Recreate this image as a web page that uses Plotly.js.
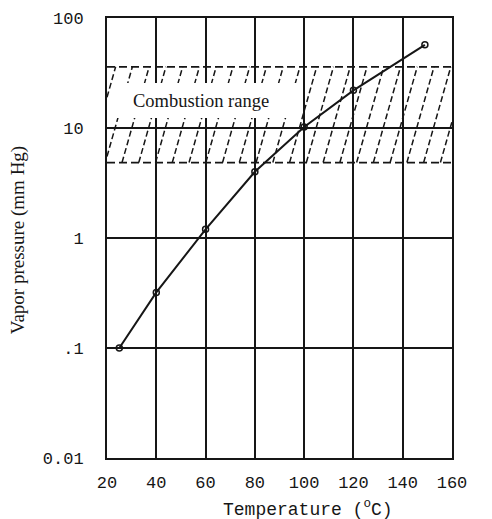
<!DOCTYPE html>
<html>
<head>
<meta charset="utf-8">
<script src="https://cdn.plot.ly/plotly-3.0.1.min.js"></script>
<style>
html,body{margin:0;padding:0;background:#fff;}
#chart{width:492px;height:519px;}
</style>
</head>
<body>
<div id="chart"></div>
<script>
// Data
var temperature = [25, 40, 60, 80, 100, 120, 149];
var vaporPressure = [0.1, 0.32, 1.2, 4.0, 10.2, 22, 57];
var combustionLow = 4.85;
var combustionHigh = 36;
var xTicks = [20, 40, 60, 80, 100, 120, 140, 160];
var yTicks = [0.01, 0.1, 1, 10, 100];
var yTickText = ["0.01", ".1", "1", "10", "100"];

var xMin = 20, xMax = 160;

// decorative hatch for the combustion band (style only)
var hatchSpacing = 6.8, hatchLean = 11, hatchPhase = 114.5;
var hx = [], hy = [];
var lLo = Math.log10(combustionLow), lHi = Math.log10(combustionHigh);
var start = hatchPhase - Math.ceil((hatchPhase - (xMin - hatchLean)) / hatchSpacing) * hatchSpacing;
for (var b = start; b <= xMax; b += hatchSpacing) {
  var t0 = Math.max(0, (xMin - b) / hatchLean);
  var t1 = Math.min(1, (xMax - b) / hatchLean);
  if (t1 <= t0) continue;
  hx.push(b + t0 * hatchLean, b + t1 * hatchLean, null);
  hy.push(Math.pow(10, lLo + t0 * (lHi - lLo)), Math.pow(10, lLo + t1 * (lHi - lLo)), null);
}

var ink = '#161616';
var traces = [
  {x: hx, y: hy, mode: 'lines', line: {color: ink, width: 1.5, dash: '6px,3px'}, hoverinfo: 'skip', connectgaps: false},
  {x: [xMin, xMax], y: [combustionHigh, combustionHigh], mode: 'lines', line: {color: ink, width: 1.7, dash: '8px,4px'}, hoverinfo: 'skip'},
  {x: [xMin, xMax], y: [combustionLow, combustionLow], mode: 'lines', line: {color: ink, width: 1.7, dash: '8px,4px'}, hoverinfo: 'skip'},
  {x: temperature, y: vaporPressure, mode: 'lines+markers',
   line: {color: ink, width: 2},
   marker: {symbol: 'circle-open', size: 6, color: ink, line: {width: 1.5, color: ink}}}
];

var layout = {
  width: 492, height: 519,
  margin: {l: 107, r: 40, t: 18, b: 61},
  paper_bgcolor: '#fff', plot_bgcolor: '#fff',
  showlegend: false,
  font: {family: '"Liberation Mono", "DejaVu Sans Mono", monospace', color: ink},
  xaxis: {
    range: [xMin, xMax], tickvals: xTicks, ticktext: xTicks.map(String),
    showgrid: true, gridcolor: ink, gridwidth: 2,
    showline: true, linecolor: ink, linewidth: 2, mirror: true,
    ticks: '', zeroline: false, ticklabelstandoff: 8,
    tickfont: {size: 17, family: '"Liberation Mono", monospace', color: ink}
  },
  yaxis: {
    type: 'log', range: [-2, 2], tickvals: yTicks, ticktext: yTickText,
    showgrid: true, gridcolor: ink, gridwidth: 2,
    showline: true, linecolor: ink, linewidth: 2, mirror: true,
    ticks: '', zeroline: false, ticklabelstandoff: 18,
    tickfont: {size: 17, family: '"Liberation Mono", monospace', color: ink}
  },
  shapes: [
    {type: 'rect', xref: 'paper', yref: 'paper', x0: 0.017, x1: 0.559, y0: 0.773, y1: 0.852,
     fillcolor: '#fff', line: {width: 0}, layer: 'above'}
  ],
  annotations: [
    {text: 'Combustion range', xref: 'paper', yref: 'paper', x: 0.272, y: 0.811,
     xanchor: 'center', yanchor: 'middle', showarrow: false,
     font: {family: '"Liberation Serif", serif', size: 18.5, color: ink}},
    {text: 'Temperature (<sup>o</sup>C)', xref: 'paper', yref: 'paper', x: 0.583, y: -0.115,
     xanchor: 'center', yanchor: 'middle', showarrow: false,
     font: {family: '"Liberation Mono", monospace', size: 18, color: ink}},
    {text: 'Vapor pressure (mm Hg)', xref: 'paper', yref: 'paper', x: -0.258, y: 0.495,
     xanchor: 'center', yanchor: 'middle', showarrow: false, textangle: -90,
     font: {family: '"Liberation Serif", serif', size: 19, color: ink}}
  ]
};

Plotly.newPlot('chart', traces, layout, {staticPlot: true, displayModeBar: false});
</script>
</body>
</html>
